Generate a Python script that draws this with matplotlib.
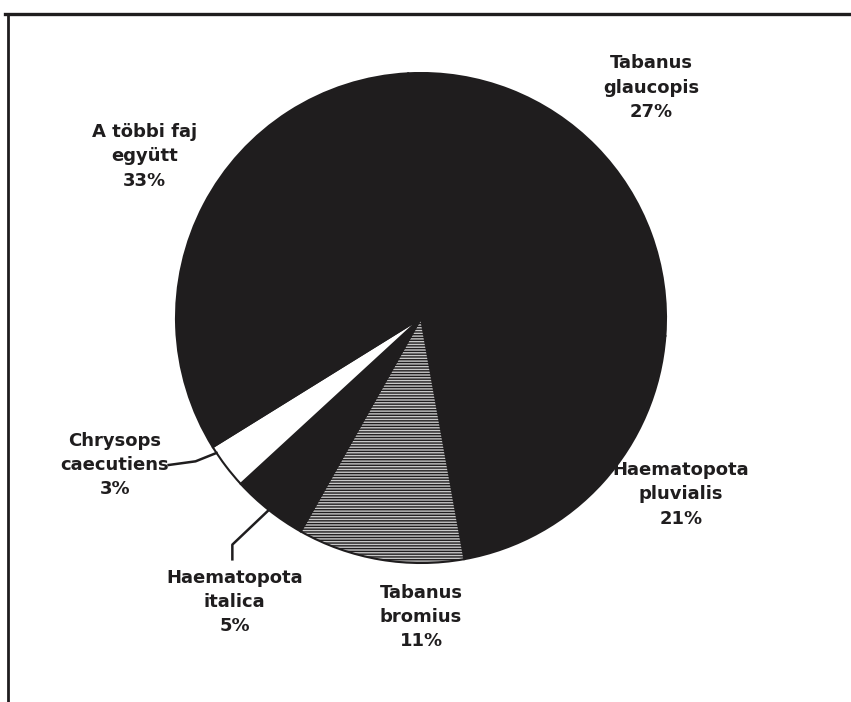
import matplotlib.pyplot as plt
import numpy as np
from matplotlib.lines import Line2D

plt.rcParams['font.family'] = ['DejaVu Sans']

# data
labels = ["Tabanus\nglaucopis\n27%", "Haematopota\npluvialis\n21%", "Tabanus\nbromius\n11%",
          "Haematopota\nitalica\n5%", "Chrysops\ncaecutiens\n3%", "A többi faj\negyütt\n33%"]
shares = [27, 21, 11, 5, 3, 33]
colors = ["#1f1d1e", "#1f1d1e", "#c8c8c8", "#1f1d1e", "white", "#1f1d1e"]
hatches = [None, None, "------", None, None, None]

# label positions (in pie radius units)
label_pos = [(0.94, 0.94), (1.06, -0.72), (0.0, -1.22),
             (-0.76, -1.16), (-1.25, -0.60), (-1.13, 0.66)]

ink = "#1f1d1e"

fig = plt.figure(figsize=(8.51, 7.02), dpi=100)
ax = fig.add_axes([0, 0, 1, 1])

wedges, _ = ax.pie(shares, colors=colors, startangle=93, counterclock=False,
                   radius=1, center=(0, 0),
                   wedgeprops=dict(edgecolor=ink, linewidth=1.5))
for w, h in zip(wedges, hatches):
    if h:
        w.set_hatch(h)

ax.set_xlim(-421 / 245, (851 - 421) / 245)
ax.set_ylim(-(702 - 318) / 245, 318 / 245)
ax.set_aspect('auto')
ax.axis('off')

for lab, (x, y) in zip(labels, label_pos):
    ax.text(x, y, lab, ha='center', va='center', fontsize=13, fontweight='heavy',
            color=ink, linespacing=1.45)


def edge_point(w, frac=0.5):
    ang = np.deg2rad(w.theta1 + (w.theta2 - w.theta1) * frac)
    return np.cos(ang), np.sin(ang)


# leader lines for the two small slices
ex, ey = edge_point(wedges[4], 0.15)
ax.plot([-1.03, -0.92, ex], [-0.60, -0.585, ey], color=ink, lw=1.8)
ex, ey = edge_point(wedges[3], 0.5)
ax.plot([-0.77, -0.77, ex], [-0.985, -0.925, ey], color=ink, lw=1.8)

# scanned frame edges
fig.add_artist(Line2D([5 / 851, 1], [1 - 14 / 702, 1 - 14 / 702], color=ink, lw=2.4))
fig.add_artist(Line2D([8 / 851, 8 / 851], [0, 1 - 14 / 702], color=ink, lw=2.0))

fig.savefig("out.png", dpi=100)
